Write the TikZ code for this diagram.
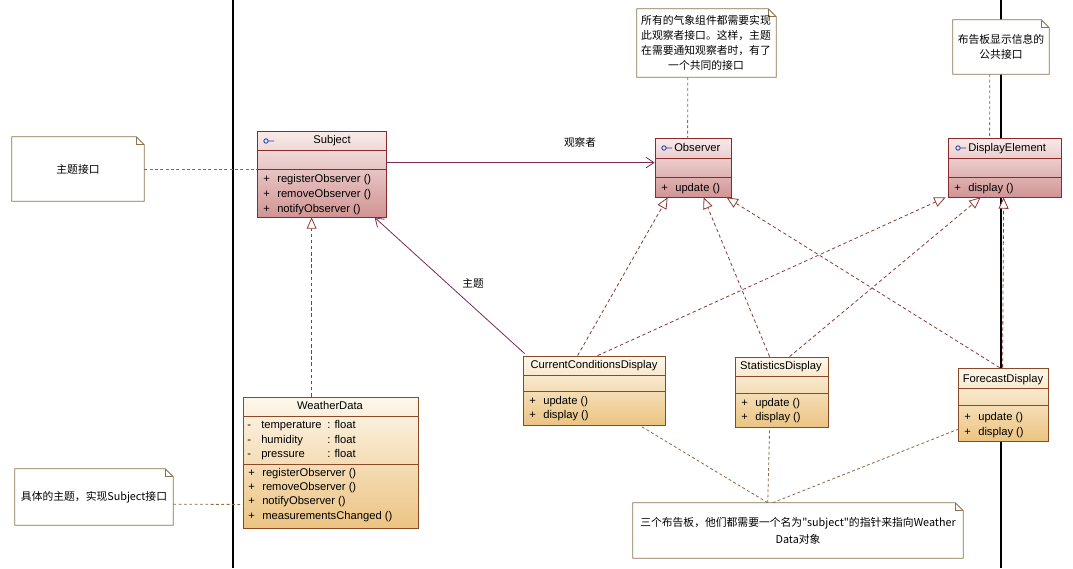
\documentclass[tikz,border=0pt]{standalone}
\usepackage{fontspec}
\setmainfont{Liberation Sans}
\newfontfamily\cjk{Noto Sans CJK SC}
\usetikzlibrary{arrows.meta,calc,fit}
\definecolor{ifctop}{HTML}{F8EBEB}
\definecolor{ifcbot}{HTML}{D29494}
\definecolor{ifcborder}{HTML}{8B2A2A}
\definecolor{clstop}{HTML}{FDF7EC}
\definecolor{clsbot}{HTML}{ECC482}
\definecolor{clsborder}{HTML}{8B4A25}
\definecolor{realc}{HTML}{8B3A3A}
\definecolor{notelinkc}{HTML}{8B6B45}
\definecolor{noteborder}{HTML}{8B7350}
\definecolor{assocc}{HTML}{7B2A5B}
\definecolor{iconc}{HTML}{1A3AB0}
\tikzset{
  ifc/.style={draw=ifcborder, line width=0.6pt, top color=ifctop, bottom color=ifcbot, inner sep=0pt},
  cls/.style={draw=clsborder, line width=0.6pt, top color=clstop, bottom color=clsbot, inner sep=0pt},
  txt/.style={inner sep=0pt, text height=5.8pt, text depth=1.7pt, anchor=west, yshift=-0.8pt},
  ctxt/.style={inner sep=0pt, text height=5.8pt, text depth=1.7pt, yshift=-0.8pt},
  noteline/.style={draw=noteborder, line width=0.6pt},
  notetext/.style={inner sep=0pt, align=center, font=\cjk\fontsize{8.1}{11.3}\selectfont},
  notelink/.style={draw=notelinkc, line width=0.6pt, dash pattern=on 2.2pt off 1.8pt},
  realize/.style={draw=realc, line width=0.6pt, dash pattern=on 2.6pt off 2pt, -{Triangle[open, length=8.5pt, width=7.5pt, fill=white]}},
  assoc/.style={draw=assocc, line width=0.6pt, -{Straight Barb[length=6pt, width=8pt]}},
  lbl/.style={inner sep=0pt, font=\cjk\fontsize{8}{9}\selectfont}
}
\newcommand\notebox[5]{%
  \node[fit={(#2,#3) (#4,#5)}, inner sep=0pt] (#1) {};
  \draw[noteline, fill=white] (#1.north west) -- ($(#1.north east)+(-8,0)$) -- ($(#1.north east)+(0,8)$) -- (#1.south east) -- (#1.south west) -- cycle;
  \draw[noteline] ($(#1.north east)+(-8,0)$) -- ($(#1.north east)+(-8,8)$) -- ($(#1.north east)+(0,8)$);}
\newcommand\umlrow[5]{%
  \node[txt] (#1s) at (#2,#4) {#3};
  \node[txt] (#1) at (#2+14,#4) {#5};}
\newcommand\lolli[3]{%
  \draw[iconc, line width=0.6pt] (#1,#2) circle[radius=2.2] (#1+2.2,#2) -- (#1+#3,#2);}
\begin{document}
\begin{tikzpicture}[x=0.75pt, y=-0.75pt, font=\fontsize{8.4}{10}\selectfont]
\useasboundingbox (0,0) rectangle (1073,568);
\fill[white] (0,0) rectangle (1073,568);
% swimlane separators
\draw[black, line width=0.8pt] (233,0) -- (233,568);
\draw[black, line width=0.8pt] (1001,0) -- (1001,568);

% ---------- notes ----------
\notebox{n1}{12}{137}{144}{201}
\node[notetext] (n1t) at (78,169) {主题接口};
\notebox{n2}{637}{9}{776}{77}
\node[notetext] (n2t) at (706,43) {所有的气象组件都需要实现\\此观察者接口。这样，主题\\在需要通知观察者时，有了\\一个共同的接口};
\notebox{n3}{953}{20}{1049}{74}
\node[notetext] (n3t) at (1001,47) {布告板显示信息的\\公共接口};
\notebox{n4}{15}{469}{173}{525}
\node[notetext] (n4t) at (94,497) {具体的主题，实现Subject接口};
\notebox{n5}{633}{503}{963}{558}
\node[notetext, font=\cjk\fontsize{8.1}{12.5}\selectfont] (n5t) at (798,531) {三个布告板，他们都需要一个名为"subject"的指针来指向Weather\\Data对象};

% ---------- classes ----------
% Subject
\node[ifc, fit={(257,131) (386,217)}] (subj) {};
\draw[ifcborder, line width=0.6pt] (257,150) -- (386,150) (257,169) -- (386,169);
\lolli{266}{141}{8}
\node[ctxt] (subjn) at (332,140) {Subject};
\umlrow{subjm1}{263}{+}{179}{registerObserver ()}
\umlrow{subjm2}{263}{+}{194}{removeObserver ()}
\umlrow{subjm3}{263}{+}{209}{notifyObserver ()}

% Observer
\node[ifc, fit={(655,138) (731,197)}] (obs) {};
\draw[ifcborder, line width=0.6pt] (655,158) -- (731,158) (655,177) -- (731,177);
\lolli{664}{148}{8}
\node[txt] (obsn) at (674,148) {Observer};
\umlrow{obsm1}{661}{+}{188}{update ()}

% DisplayElement
\node[ifc, fit={(948,138) (1061,197)}] (de) {};
\draw[ifcborder, line width=0.6pt] (948,158) -- (1061,158) (948,177) -- (1061,177);
\lolli{958}{148}{8}
\node[txt] (den) at (968,148) {DisplayElement};
\umlrow{dem1}{954}{+}{188}{display ()}

% WeatherData
\node[cls, fit={(243,397) (418,528)}] (wd) {};
\draw[clsborder, line width=0.6pt] (243,416) -- (418,416) (243,464) -- (418,464);
\node[ctxt] (wdn) at (330,406) {WeatherData};
\umlrow{wda1}{247}{-}{425}{temperature}
\umlrow{wda2}{247}{-}{440}{humidity}
\umlrow{wda3}{247}{-}{454}{pressure}
\node[txt] (wdt1) at (327,425) {: float};
\node[txt] (wdt2) at (327,440) {: float};
\node[txt] (wdt3) at (327,454) {: float};
\umlrow{wdm1}{248}{+}{473}{registerObserver ()}
\umlrow{wdm2}{248}{+}{487}{removeObserver ()}
\umlrow{wdm3}{248}{+}{501}{notifyObserver ()}
\umlrow{wdm4}{248}{+}{516}{measurementsChanged ()}

% CurrentConditionsDisplay
\node[cls, fit={(523,356) (665,425)}] (ccd) {};
\draw[clsborder, line width=0.6pt] (523,375) -- (665,375) (523,391) -- (665,391);
\node[ctxt] (ccdn) at (594,365) {CurrentConditionsDisplay};
\umlrow{ccdm1}{529}{+}{401}{update ()}
\umlrow{ccdm2}{529}{+}{415}{display ()}

% StatisticsDisplay
\node[cls, fit={(735,357) (828,427)}] (stat) {};
\draw[clsborder, line width=0.6pt] (735,376) -- (828,376) (735,393) -- (828,393);
\node[ctxt] (statn) at (781,366) {StatisticsDisplay};
\umlrow{statm1}{741}{+}{403}{update ()}
\umlrow{statm2}{741}{+}{417}{display ()}

% ForecastDisplay
\node[cls, fit={(958,368) (1048,441)}] (fc) {};
\draw[clsborder, line width=0.6pt] (958,388) -- (1048,388) (958,405) -- (1048,405);
\node[ctxt] (fcn) at (1003,379) {ForecastDisplay};
\umlrow{fcm1}{964}{+}{417}{update ()}
\umlrow{fcm2}{964}{+}{432}{display ()}

% ---------- note links ----------
\draw[notelink] (n1.east) -- (n1.east -| subj.west);
\draw[notelink] ($(n2.south west)+(51,0)$) -- ($(obs.north west)+(33,0)$);
\draw[notelink] ($(n3.south west)+(37,0)$) -- ($(de.north west)+(42,0)$);
\draw[notelink] ($(n4.south east)+(0,-21)$) -- ($(wd.south west)+(0,-24)$);
\draw[notelink] ($(n5.north west)+(135,0)$) -- ($(ccd.south west)+(117,0)$);
\draw[notelink] ($(n5.north west)+(135,0)$) -- ($(stat.south west)+(35,0)$);
\draw[notelink] ($(n5.north west)+(140,0)$) -- ($(fc.south west)+(0,-12)$);

% ---------- realizations ----------
\draw[realize] ($(wd.north west)+(69,0)$) -- ($(subj.south west)+(55,0)$);
\draw[realize] ($(ccd.north west)+(55,0)$) -- ($(obs.south west)+(13,0)$);
\draw[realize] ($(ccd.north west)+(75,0)$) -- ($(de.south west)+(-2,0)$);
\draw[realize] ($(stat.north west)+(35,0)$) -- ($(obs.south west)+(49,0)$);
\draw[realize] ($(stat.north west)+(55,0)$) -- ($(de.south west)+(33,0)$);
\draw[realize] ($(fc.north west)+(42,0)$) -- ($(obs.south west)+(72,0)$);
\draw[realize] ($(fc.north west)+(45,0)$) -- ($(de.south west)+(56,0)$);

% ---------- associations ----------
\draw[assoc] ($(subj.north east)+(0,32)$) -- ($(obs.north west)+(0,25)$);
\node[lbl] (l1) at (580,142) {观察者};
\draw[assoc] ($(ccd.north west)+(2,-2)$) -- ($(subj.south west)+(118,0)$);
\node[lbl] (l2) at (473,283) {主题};
\end{tikzpicture}
\end{document}
